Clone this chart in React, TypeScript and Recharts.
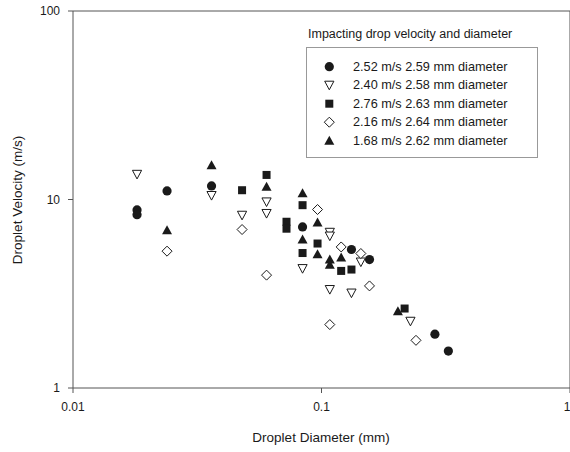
import { ScatterChart, Scatter, XAxis, YAxis, ReferenceLine, Legend } from 'recharts';

const diameterTicks = [0.01, 0.1, 1];
const velocityTicks = [1, 10, 100];

const legendTitle = 'Impacting drop velocity and diameter';
const seriesNames = [
  '2.52 m/s 2.59 mm diameter',
  '2.40 m/s 2.58 mm diameter',
  '2.76 m/s 2.63 mm diameter',
  '2.16 m/s 2.64 mm diameter',
  '1.68 m/s 2.62 mm diameter'
];

// droplet diameter (mm) / velocity (m/s) per impact case
const circleDiam = [0.0181, 0.0181, 0.0239, 0.0361, 0.0839, 0.132, 0.156, 0.286, 0.324];
const circleVel = [8.8, 8.3, 11.1, 11.8, 7.15, 5.43, 4.8, 1.93, 1.57];

const openTriDiam = [0.0181, 0.0361, 0.0479, 0.0601, 0.0601, 0.0839, 0.108, 0.108, 0.108, 0.132, 0.144, 0.228];
const openTriVel = [13.6, 10.5, 8.25, 9.71, 8.43, 4.3, 6.7, 6.4, 3.33, 3.19, 4.66, 2.26];

const squareDiam = [0.0479, 0.0601, 0.0723, 0.0723, 0.0839, 0.0839, 0.0964, 0.12, 0.132, 0.216];
const squareVel = [11.2, 13.5, 7.62, 7.0, 9.33, 5.2, 5.84, 4.18, 4.25, 2.64];

const diamondDiam = [0.0239, 0.0479, 0.0601, 0.0964, 0.108, 0.12, 0.144, 0.156, 0.24];
const diamondVel = [5.32, 6.93, 3.97, 8.85, 2.17, 5.6, 5.17, 3.48, 1.79];

const triDiam = [0.0239, 0.0361, 0.0601, 0.0839, 0.0839, 0.0964, 0.0964, 0.108, 0.108, 0.12, 0.203];
const triVel = [6.87, 15.2, 11.7, 10.8, 6.13, 7.55, 5.13, 4.8, 4.5, 4.92, 2.55];

const toPoints = (d: number[], v: number[]) => d.map((x, i) => ({ d: x, v: v[i] }));

const FONT = 'Arial, "Liberation Sans", Helvetica, sans-serif';
const INK = '#1a1a1a';

const Circle = ({ cx, cy }: any) => <circle cx={cx} cy={cy} r={4.6} fill={INK} />;
const OpenTri = ({ cx, cy }: any) => (
  <polygon
    points={`${cx - 4.6},${cy - 4} ${cx + 4.6},${cy - 4} ${cx},${cy + 4.6}`}
    fill="#fff"
    stroke={INK}
    strokeWidth={1}
  />
);
const Square = ({ cx, cy }: any) => <rect x={cx - 4} y={cy - 4} width={8} height={8} fill={INK} />;
const Diamond = ({ cx, cy }: any) => (
  <polygon
    points={`${cx},${cy - 5} ${cx + 5},${cy} ${cx},${cy + 5} ${cx - 5},${cy}`}
    fill="#fff"
    stroke={INK}
    strokeWidth={1}
  />
);
const Tri = ({ cx, cy }: any) => (
  <polygon points={`${cx},${cy - 5} ${cx + 5},${cy + 4} ${cx - 5},${cy + 4}`} fill={INK} />
);

const shapes = [Circle, OpenTri, Square, Diamond, Tri];

const LegendBox = () => (
  <svg width={250} height={140} style={{ overflow: 'visible' }}>
    <text x={8} y={12} fontSize={12.5} fontFamily={FONT} fill={INK} dominantBaseline="central">
      {legendTitle}
    </text>
    <rect x={6.5} y={25.5} width={231} height={110} fill="#fff" stroke="#999" strokeWidth={1} />
    {seriesNames.map((name, i) => {
      const Shape = shapes[i];
      const cy = 44.7 + i * 18.5;
      return (
        <g key={name}>
          <Shape cx={29.3} cy={cy} />
          <text x={53} y={cy} fontSize={12.7} fontFamily={FONT} fill={INK} dominantBaseline="central">
            {name}
          </text>
        </g>
      );
    })}
  </svg>
);

const App = () => {
  const series = [
    toPoints(circleDiam, circleVel),
    toPoints(openTriDiam, openTriVel),
    toPoints(squareDiam, squareVel),
    toPoints(diamondDiam, diamondVel),
    toPoints(triDiam, triVel)
  ];

  return (
    <div style={{ position: 'absolute', left: 0, top: 0, background: '#fff' }}>
      <ScatterChart width={570} height={452} margin={{ top: 11, right: 0, left: 0, bottom: 34 }}>
        <XAxis
          dataKey="d"
          type="number"
          scale="log"
          domain={[0.01, 1]}
          ticks={diameterTicks}
          allowDataOverflow
          tickFormatter={(t: number) => String(t)}
          stroke="#555"
          tickSize={5}
          tickMargin={9}
          height={30}
          tick={{ fill: INK, fontSize: 12, fontFamily: FONT }}
          label={{
            content: () => (
              <text x={321} y={437} textAnchor="middle" dominantBaseline="central" fontSize={13.5} fontFamily={FONT} fill={INK}>
                Droplet Diameter (mm)
              </text>
            )
          }}
        />
        <YAxis
          dataKey="v"
          type="number"
          scale="log"
          domain={[1, 100]}
          ticks={velocityTicks}
          allowDataOverflow
          stroke="#555"
          tickSize={5}
          tickMargin={8}
          width={73}
          tick={{ fill: INK, fontSize: 12, fontFamily: FONT }}
          label={{
            content: () => (
              <text
                x={17}
                y={200}
                transform="rotate(-90 17 200)"
                textAnchor="middle"
                dominantBaseline="central"
                fontSize={13.5}
                fontFamily={FONT}
                fill={INK}
              >
                Droplet Velocity (m/s)
              </text>
            )
          }}
        />
        <ReferenceLine y={100} stroke="#555" strokeWidth={1} />
        <ReferenceLine x={1} stroke="#555" strokeWidth={1} />
        {series.map((pts, i) => (
          <Scatter key={seriesNames[i]} name={seriesNames[i]} data={pts} shape={shapes[i]} isAnimationActive={false} />
        ))}
        <Legend
          layout="vertical"
          align="center"
          verticalAlign="middle"
          content={<LegendBox />}
          wrapperStyle={{ position: 'absolute', left: 300, top: 22, width: 250, height: 140 }}
        />
      </ScatterChart>
    </div>
  );
};

export default App;
